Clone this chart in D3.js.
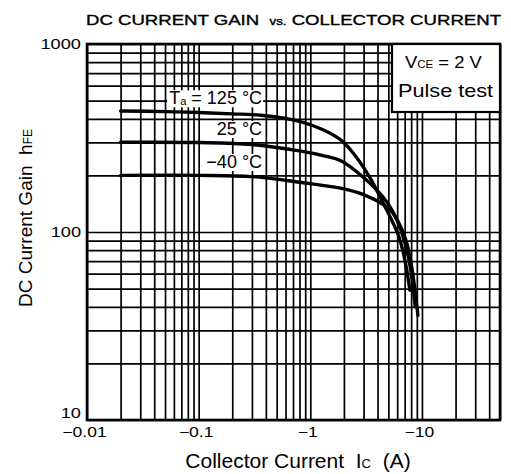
<!DOCTYPE html>
<html>
<head>
<meta charset="utf-8">
<script src="https://d3js.org/d3.v7.min.js"></script>
<style type="text/css">
body {
	margin: 0;
	background: #fff;
}
text {
	font-family: "Liberation Sans", Arial, sans-serif;
	fill: #000;
	white-space: pre;
}
</style>
</head>
<body>
<div id="chart"></div>
<script type="text/javascript">
var width = 511;
var height = 474;

// |Ic| in A and hFE
var ic125 = [0.02, 0.05, 0.1, 0.2, 0.36, 0.8, 1.3, 1.86, 2.3, 3.4, 4.3, 5.2, 6.2, 7.0, 7.8];
var hfe125 = [440, 437, 432, 425, 418, 388, 350, 310, 273, 196, 150, 120, 95, 72, 49];

var ic25 = [0.02, 0.1, 0.3, 0.8, 1.3, 1.86, 3.0, 4.5, 5.5, 6.5, 7.5, 8.2, 8.7];
var hfe25 = [300, 299, 292, 270, 255, 240, 195, 153, 128, 102, 75, 55, 40];

var icM40 = [0.02, 0.1, 0.3, 0.8, 1.86, 3.0, 4.5, 5.2, 6.2, 7.2, 8.0, 8.7, 9.2];
var hfeM40 = [200, 200, 197, 184, 171, 158, 140, 131, 112, 90, 68, 48, 36];

var tempLabels = ["125 °C", "25 °C", "\u221240 °C"];

var xTickValues = [0.01, 0.1, 1, 10];
var xTickLabels = ["\u22120.01", "\u22120.1", "\u22121", "\u221210"];
var yTickValues = [10, 100, 1000];
var yTickLabels = ["10", "100", "1000"];

var xDomain = [0.01, 50];
var yDomain = [10, 1000];

var plot = {left: 87, right: 500, top: 44, bottom: 420};

var x = d3.scaleLog().domain(xDomain).range([plot.left, plot.right]);
var y = d3.scaleLog().domain(yDomain).range([plot.bottom, plot.top]);

var svg = d3.select("#chart")
	.append("svg")
	.attr("width", width)
	.attr("height", height);

svg.append("rect")
	.attr("width", width)
	.attr("height", height)
	.attr("fill", "#fff");

// stretch text sideways, the scan is wider than the fonts
function stretch(sel, k) {
	sel.each(function() {
		var w = this.getComputedTextLength();
		d3.select(this)
			.attr("textLength", w * k)
			.attr("lengthAdjust", "spacingAndGlyphs");
	});
}

// grid
var gGrid = svg.append("g");
gGrid.append("g")
	.attr("transform", "translate(0," + plot.bottom + ")")
	.call(d3.axisBottom(x)
		.tickValues(x.ticks())
		.tickSize(-(plot.bottom - plot.top))
		.tickFormat(""));
gGrid.append("g")
	.attr("transform", "translate(" + plot.left + ",0)")
	.call(d3.axisLeft(y)
		.tickValues(y.ticks())
		.tickSize(-(plot.right - plot.left))
		.tickFormat(""));
gGrid.selectAll(".domain").remove();
gGrid.selectAll(".tick line")
	.attr("stroke", "#000")
	.attr("stroke-width", 1.7);

// frame
svg.append("rect")
	.attr("x", plot.left)
	.attr("y", plot.top)
	.attr("width", plot.right - plot.left)
	.attr("height", plot.bottom - plot.top)
	.attr("fill", "none")
	.attr("stroke", "#000")
	.attr("stroke-width", 2.6);

// condition box, top right
var boxW = 108, boxH = 68;
var gBox = svg.append("g")
	.attr("transform", "translate(" + (plot.right - boxW) + "," + plot.top + ")");
gBox.append("rect")
	.attr("width", boxW)
	.attr("height", boxH)
	.attr("fill", "#fff")
	.attr("stroke", "#000")
	.attr("stroke-width", 2.2);
var vce = gBox.append("text")
	.attr("x", 13)
	.attr("y", 24)
	.style("font-size", "16px");
vce.append("tspan").text("V");
vce.append("tspan").style("font-size", "10px").text("CE");
vce.append("tspan").text(" = 2 V");
stretch(vce, 1.15);
var pulse = gBox.append("text")
	.attr("x", 6)
	.attr("y", 53)
	.style("font-size", "19px")
	.text("Pulse test");
stretch(pulse, 1.14);

// curves
var series = [
	{ic: ic125, hfe: hfe125},
	{ic: ic25, hfe: hfe25},
	{ic: icM40, hfe: hfeM40}
];

var line = d3.line()
	.x(function(d) { return x(d[0]); })
	.y(function(d) { return y(d[1]); })
	.curve(d3.curveCatmullRom.alpha(0.5));

svg.append("g")
	.selectAll("path")
	.data(series)
	.enter()
	.append("path")
	.attr("d", function(s) {
		return line(s.ic.map(function(v, i) { return [v, s.hfe[i]]; }));
	})
	.attr("fill", "none")
	.attr("stroke", "#000")
	.attr("stroke-width", 3.4)
	.attr("stroke-linecap", "round");

// temperature labels, anchored at their right end
var labelIc = 0.37;
var labelHfe = [478, 328, 219];
var gLabels = svg.append("g");
tempLabels.forEach(function(t, i) {
	var g = gLabels.append("g");
	var txt = g.append("text")
		.attr("x", x(labelIc))
		.attr("y", y(labelHfe[i]))
		.attr("text-anchor", "end")
		.style("font-size", "18px");
	if (i == 0) {
		txt.append("tspan").text("T");
		txt.append("tspan").style("font-size", "11px").attr("dy", 1).text("a");
		txt.append("tspan").attr("dy", -1).text(" = " + t);
	} else {
		txt.text(t);
	}
	var bb = txt.node().getBBox();
	g.insert("rect", "text")
		.attr("x", bb.x - 2)
		.attr("y", bb.y + 2)
		.attr("width", bb.width + 3)
		.attr("height", bb.height - 3)
		.attr("fill", "#fff");
});

// tick labels
var gX = svg.append("g")
	.attr("transform", "translate(0," + plot.bottom + ")")
	.call(d3.axisBottom(x)
		.tickValues(xTickValues)
		.tickSize(0)
		.tickPadding(7)
		.tickFormat(function(d, i) { return xTickLabels[i]; }));
gX.select(".domain").remove();
gX.selectAll("text")
	.style("font-size", "14px")
	.style("font-family", "'Liberation Sans', Arial, sans-serif")
	.attr("dx", -3);
stretch(gX.selectAll("text"), 1.25);

var gY = svg.append("g")
	.attr("transform", "translate(" + plot.left + ",0)")
	.call(d3.axisLeft(y)
		.tickValues(yTickValues)
		.tickSize(0)
		.tickPadding(6)
		.tickFormat(function(d, i) { return yTickLabels[i]; }));
gY.select(".domain").remove();
gY.selectAll("text")
	.style("font-size", "14px")
	.style("font-family", "'Liberation Sans', Arial, sans-serif");
// bottom label sits a little higher, clear of -0.01
gY.selectAll("text").filter(function(d) { return d == yDomain[0]; })
	.attr("dy", "-0.2em");
stretch(gY.selectAll("text"), 1.3);

// axis titles
var xTitle = svg.append("text")
	.attr("x", 298)
	.attr("y", 468)
	.attr("text-anchor", "middle")
	.style("font-size", "21px");
xTitle.append("tspan").text("Collector Current  I");
xTitle.append("tspan").style("font-size", "13px").text("C");
xTitle.append("tspan").text("  (A)");

var yTitle = svg.append("text")
	.attr("transform", "translate(32,218) rotate(-90)")
	.attr("text-anchor", "middle")
	.style("font-size", "19px");
yTitle.append("tspan").text("DC Current Gain  h");
yTitle.append("tspan").style("font-size", "12px").text("FE");

// chart title
var title = svg.append("text")
	.attr("x", 86)
	.attr("y", 25)
	.style("font-size", "14px")
	.attr("stroke", "#000")
	.attr("stroke-width", 0.35);
title.append("tspan").text("DC CURRENT GAIN  ");
title.append("tspan").style("font-size", "10px").text("vs.");
title.append("tspan").text(" COLLECTOR CURRENT");
title.attr("textLength", 415).attr("lengthAdjust", "spacingAndGlyphs");
</script>
</body>
</html>
